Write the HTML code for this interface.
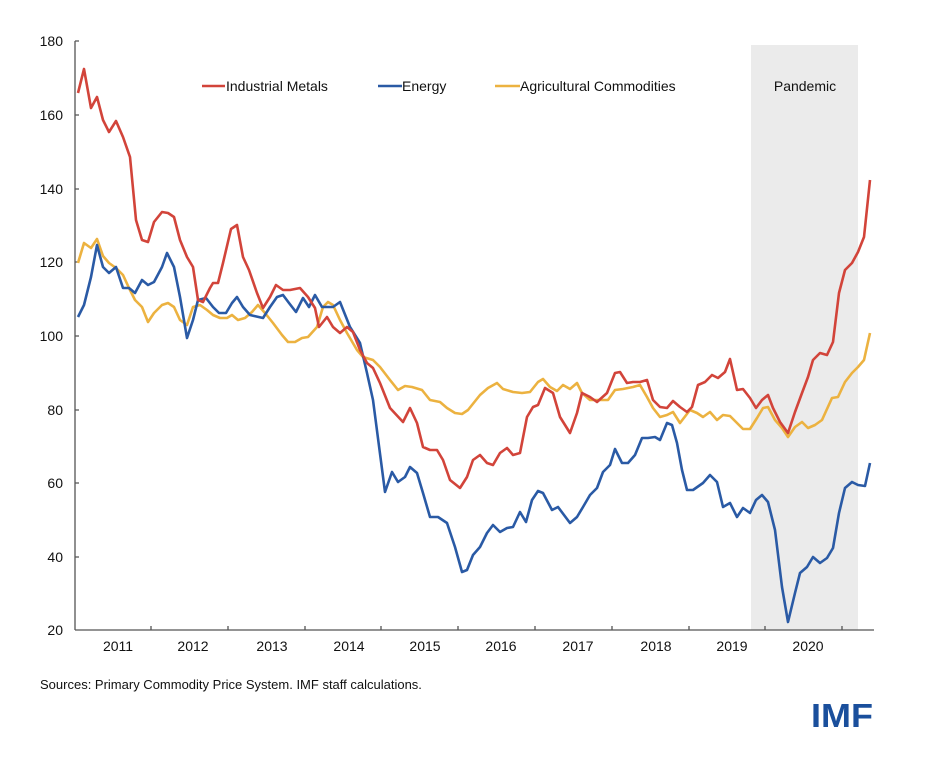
<!DOCTYPE html>
<html><head><meta charset="utf-8"><style>
body{margin:0;background:#fff;}
svg{display:block;font-family:"Liberation Sans",Arial,sans-serif;}
</style></head><body>
<svg width="925" height="760" viewBox="0 0 925 760">
<rect x="751" y="45" width="107" height="585" fill="#ebebeb"/>
<g stroke="#555" stroke-width="1.3" fill="none">
<line x1="75" y1="41" x2="75" y2="630"/>
<line x1="75" y1="630" x2="874" y2="630"/>
<path d="M75 41h4M75 115h4M75 189h4M75 262h4M75 336h4M75 410h4M75 483h4M75 557h4"/>
<path d="M151 630v-4M228 630v-4M305 630v-4M381 630v-4M458 630v-4M535 630v-4M612 630v-4M689 630v-4M765 630v-4M842 630v-4"/>
</g>
<g font-size="14" fill="#111" text-anchor="end">
<text x="63" y="46">180</text><text x="63" y="120">160</text><text x="63" y="194">140</text><text x="63" y="267">120</text><text x="63" y="341">100</text><text x="63" y="415">80</text><text x="63" y="488">60</text><text x="63" y="562">40</text><text x="63" y="635">20</text>
</g>
<g font-size="14" fill="#111" text-anchor="middle">
<text x="118" y="651">2011</text><text x="193" y="651">2012</text><text x="272" y="651">2013</text><text x="349" y="651">2014</text><text x="425" y="651">2015</text><text x="501" y="651">2016</text><text x="578" y="651">2017</text><text x="656" y="651">2018</text><text x="732" y="651">2019</text><text x="808" y="651">2020</text>
</g>
<g font-size="14" fill="#111">
<line x1="202" y1="86" x2="225" y2="86" stroke="#d2443a" stroke-width="2.5"/><text x="226" y="91">Industrial Metals</text>
<line x1="378" y1="86" x2="402" y2="86" stroke="#2a5aa5" stroke-width="2.5"/><text x="402" y="91">Energy</text>
<line x1="495" y1="86" x2="520" y2="86" stroke="#ecb240" stroke-width="2.5"/><text x="520" y="91">Agricultural Commodities</text>
<text x="805" y="91" text-anchor="middle">Pandemic</text>
</g>
<g fill="none" stroke-width="2.6" stroke-linejoin="round">
<polyline stroke="#ecb240" points="78,263 84,243 91,248 97,239 103,256 109,263 116,268 123,275 129,288 135,300 142,307 148,322 154,313 162,305 168,303 174,307 180,320 187,325 193,307 200,305 207,310 213,315 220,318 227,318 232,315 238,320 245,318 252,312 258,305 265,313 273,323 282,335 288,342 295,342 302,338 308,337 317,327 323,307 328,302 333,305 340,320 347,333 357,350 363,357 373,360 380,367 390,380 398,390 405,386 412,387 422,390 430,400 440,402 447,408 455,413 462,414 468,410 480,395 488,388 497,383 503,389 513,392 522,393 530,392 538,382 543,379 550,387 557,391 563,385 570,389 577,383 582,393 590,400 597,400 608,400 615,390 623,389 633,387 640,385 647,397 653,408 660,417 667,415 673,412 680,423 690,410 697,413 703,417 710,412 717,420 723,415 730,416 737,423 743,429 750,429 757,418 763,408 768,407 775,420 782,428 788,437 795,427 802,422 808,428 815,425 822,420 832,398 838,397 845,382 852,373 858,367 864,360 870,333"/>
<polyline stroke="#2a5aa5" points="78,317 84,305 91,277 97,245 103,267 109,273 116,267 123,288 129,288 135,293 142,280 148,285 154,282 162,267 167,253 174,267 180,297 187,338 193,320 198,300 206,298 213,307 219,313 226,313 232,303 237,297 243,307 250,315 263,318 270,307 277,297 283,295 289,303 296,312 303,298 309,307 315,295 322,307 333,307 340,302 350,327 360,343 367,373 373,400 385,492 392,472 398,482 405,477 410,467 417,473 423,493 430,517 438,517 447,523 455,547 462,572 467,570 473,555 480,547 487,533 493,525 500,532 507,528 513,527 520,512 526,522 532,500 538,491 543,493 552,510 558,507 570,523 577,517 583,507 590,495 597,488 603,472 610,465 615,449 622,463 628,463 635,455 642,438 648,438 655,437 660,440 667,423 672,425 677,443 682,470 687,490 693,490 703,483 710,475 717,482 723,507 730,503 737,517 743,508 750,513 756,500 762,495 768,502 775,530 782,587 788,622 795,593 800,573 807,567 813,557 820,563 827,558 833,548 839,513 845,488 852,482 858,485 865,486 870,463"/>
<polyline stroke="#d2443a" points="78,93 84,69 91,108 97,97 103,120 109,132 116,121 123,137 130,157 136,220 142,240 148,242 154,222 162,212 168,213 174,217 180,240 187,257 193,267 198,300 203,302 210,288 213,283 218,283 223,263 231,229 237,225 243,257 249,270 257,293 263,308 270,297 276,285 283,290 290,290 300,288 308,297 315,308 319,327 327,317 333,327 340,333 347,327 353,332 360,350 367,363 373,368 380,383 390,408 403,422 410,408 417,423 423,447 430,450 437,450 443,460 450,480 460,488 467,477 473,460 480,455 487,463 493,465 500,453 507,448 513,455 520,453 527,417 533,407 538,405 545,388 553,393 560,417 570,433 577,413 582,393 590,397 597,402 607,393 615,373 620,372 627,383 633,382 640,382 647,380 653,400 660,407 667,408 673,401 680,407 687,412 692,407 698,385 705,382 712,375 718,378 725,372 730,359 737,390 743,389 750,398 756,408 762,400 768,395 773,408 780,422 788,433 795,412 802,393 808,377 813,360 820,353 827,355 833,342 839,293 845,270 852,263 858,252 864,237 870,180"/>
</g>
<text x="40" y="689" font-size="13" fill="#111">Sources: Primary Commodity Price System. IMF staff calculations.</text>
<text x="811" y="727" font-size="33" font-weight="bold" fill="#1a4f9c" textLength="62" lengthAdjust="spacingAndGlyphs">IMF</text>
</svg>
</body></html>
